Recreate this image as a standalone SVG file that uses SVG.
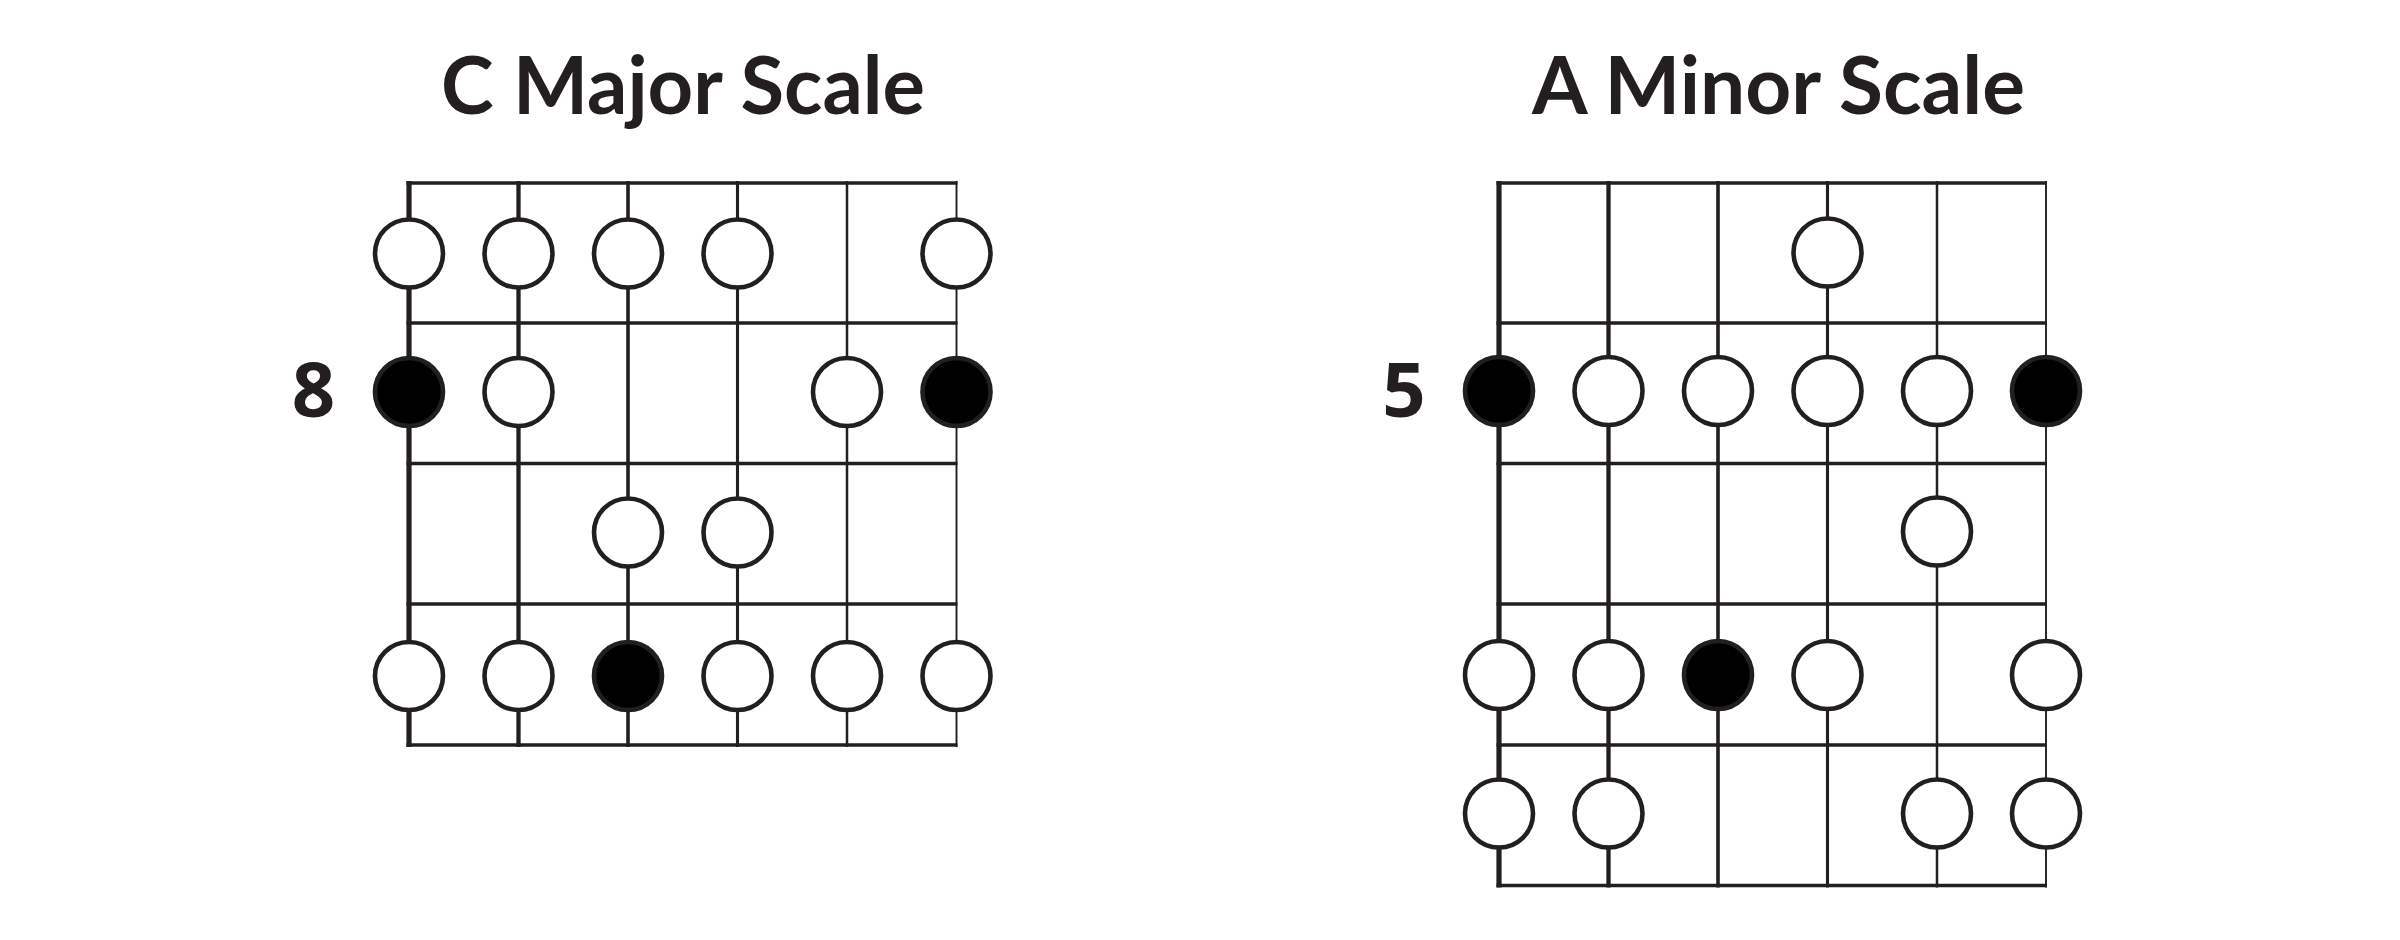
<svg xmlns="http://www.w3.org/2000/svg" width="2400" height="940" viewBox="0 0 2400 940">
<style>
.bg{fill:#ffffff}
.title{font-family:Lato,"Open Sans","Liberation Sans",sans-serif;font-weight:700;font-size:80px;fill:#231f20;text-anchor:middle}
.fretno{font-family:"Open Sans","Liberation Sans",sans-serif;font-weight:700;font-size:76px;fill:#231f20;text-anchor:middle}
.fret{stroke:#231f20;stroke-width:3.6;fill:none}
.s1{stroke:#231f20;stroke-width:5.2}
.s2{stroke:#231f20;stroke-width:4.3}
.s3{stroke:#231f20;stroke-width:3.6}
.s4{stroke:#231f20;stroke-width:3.1}
.s5{stroke:#231f20;stroke-width:2.5}
.s6{stroke:#231f20;stroke-width:1.9}
.open{fill:#ffffff;stroke:#231f20;stroke-width:4.6}
.root{fill:#000000;stroke:#231f20;stroke-width:4.6}
</style>
<rect class="bg" x="0" y="0" width="2400" height="940"/>

<g id="c-major">
  <text id="c-major-title" class="title" x="683" y="114" textLength="484" lengthAdjust="spacingAndGlyphs">C Major Scale</text>
  <text id="c-major-fret" class="fretno" x="313.5" y="417">8</text>
  <g id="c-major-grid">
    <line class="s1" x1="409" y1="181" x2="409" y2="747"/>
    <line class="s2" x1="518.5" y1="181" x2="518.5" y2="747"/>
    <line class="s3" x1="628" y1="181" x2="628" y2="747"/>
    <line class="s4" x1="737.5" y1="181" x2="737.5" y2="747"/>
    <line class="s5" x1="847" y1="181" x2="847" y2="747"/>
    <line class="s6" x1="956.5" y1="181" x2="956.5" y2="747"/>
    <line class="fret" x1="406.5" y1="183" x2="957.5" y2="183"/>
    <line class="fret" x1="406.5" y1="323" x2="957.5" y2="323"/>
    <line class="fret" x1="406.5" y1="463.5" x2="957.5" y2="463.5"/>
    <line class="fret" x1="406.5" y1="604" x2="957.5" y2="604"/>
    <line class="fret" x1="406.5" y1="745" x2="957.5" y2="745"/>
  </g>
  <g id="c-major-notes">
    <g id="cm-r1-s1"><circle class="open" cx="409" cy="253.5" r="34"/></g>
    <g id="cm-r1-s2"><circle class="open" cx="518.5" cy="253.5" r="34"/></g>
    <g id="cm-r1-s3"><circle class="open" cx="628" cy="253.5" r="34"/></g>
    <g id="cm-r1-s4"><circle class="open" cx="737.5" cy="253.5" r="34"/></g>
    <g id="cm-r1-s6"><circle class="open" cx="956.5" cy="253.5" r="34"/></g>
    <g id="cm-r2-s1"><circle class="root" cx="409" cy="392" r="34"/></g>
    <g id="cm-r2-s2"><circle class="open" cx="518.5" cy="392" r="34"/></g>
    <g id="cm-r2-s5"><circle class="open" cx="847" cy="392" r="34"/></g>
    <g id="cm-r2-s6"><circle class="root" cx="956.5" cy="392" r="34"/></g>
    <g id="cm-r3-s3"><circle class="open" cx="628" cy="532.5" r="34"/></g>
    <g id="cm-r3-s4"><circle class="open" cx="737.5" cy="532.5" r="34"/></g>
    <g id="cm-r4-s1"><circle class="open" cx="409" cy="676" r="34"/></g>
    <g id="cm-r4-s2"><circle class="open" cx="518.5" cy="676" r="34"/></g>
    <g id="cm-r4-s3"><circle class="root" cx="628" cy="676" r="34"/></g>
    <g id="cm-r4-s4"><circle class="open" cx="737.5" cy="676" r="34"/></g>
    <g id="cm-r4-s5"><circle class="open" cx="847" cy="676" r="34"/></g>
    <g id="cm-r4-s6"><circle class="open" cx="956.5" cy="676" r="34"/></g>
  </g>
</g>

<g id="a-minor">
  <text id="a-minor-title" class="title" x="1778.5" y="114" textLength="493" lengthAdjust="spacingAndGlyphs">A Minor Scale</text>
  <text id="a-minor-fret" class="fretno" x="1404" y="417">5</text>
  <g id="a-minor-grid">
    <line class="s1" x1="1499" y1="181" x2="1499" y2="887.5"/>
    <line class="s2" x1="1608.5" y1="181" x2="1608.5" y2="887.5"/>
    <line class="s3" x1="1718" y1="181" x2="1718" y2="887.5"/>
    <line class="s4" x1="1827.5" y1="181" x2="1827.5" y2="887.5"/>
    <line class="s5" x1="1937" y1="181" x2="1937" y2="887.5"/>
    <line class="s6" x1="2046" y1="181" x2="2046" y2="887.5"/>
    <line class="fret" x1="1496.5" y1="183" x2="2047" y2="183"/>
    <line class="fret" x1="1496.5" y1="323" x2="2047" y2="323"/>
    <line class="fret" x1="1496.5" y1="463.5" x2="2047" y2="463.5"/>
    <line class="fret" x1="1496.5" y1="604" x2="2047" y2="604"/>
    <line class="fret" x1="1496.5" y1="745" x2="2047" y2="745"/>
    <line class="fret" x1="1496.5" y1="885.5" x2="2047" y2="885.5"/>
  </g>
  <g id="a-minor-notes">
    <g id="am-r1-s4"><circle class="open" cx="1827.5" cy="252.5" r="34"/></g>
    <g id="am-r2-s1"><circle class="root" cx="1499" cy="391" r="34"/></g>
    <g id="am-r2-s2"><circle class="open" cx="1608.5" cy="391" r="34"/></g>
    <g id="am-r2-s3"><circle class="open" cx="1718" cy="391" r="34"/></g>
    <g id="am-r2-s4"><circle class="open" cx="1827.5" cy="391" r="34"/></g>
    <g id="am-r2-s5"><circle class="open" cx="1937" cy="391" r="34"/></g>
    <g id="am-r2-s6"><circle class="root" cx="2046" cy="391" r="34"/></g>
    <g id="am-r3-s5"><circle class="open" cx="1937" cy="531.5" r="34"/></g>
    <g id="am-r4-s1"><circle class="open" cx="1499" cy="675" r="34"/></g>
    <g id="am-r4-s2"><circle class="open" cx="1608.5" cy="675" r="34"/></g>
    <g id="am-r4-s3"><circle class="root" cx="1718" cy="675" r="34"/></g>
    <g id="am-r4-s4"><circle class="open" cx="1827.5" cy="675" r="34"/></g>
    <g id="am-r4-s6"><circle class="open" cx="2046" cy="675" r="34"/></g>
    <g id="am-r5-s1"><circle class="open" cx="1499" cy="813.5" r="34"/></g>
    <g id="am-r5-s2"><circle class="open" cx="1608.5" cy="813.5" r="34"/></g>
    <g id="am-r5-s5"><circle class="open" cx="1937" cy="813.5" r="34"/></g>
    <g id="am-r5-s6"><circle class="open" cx="2046" cy="813.5" r="34"/></g>
  </g>
</g>
</svg>
